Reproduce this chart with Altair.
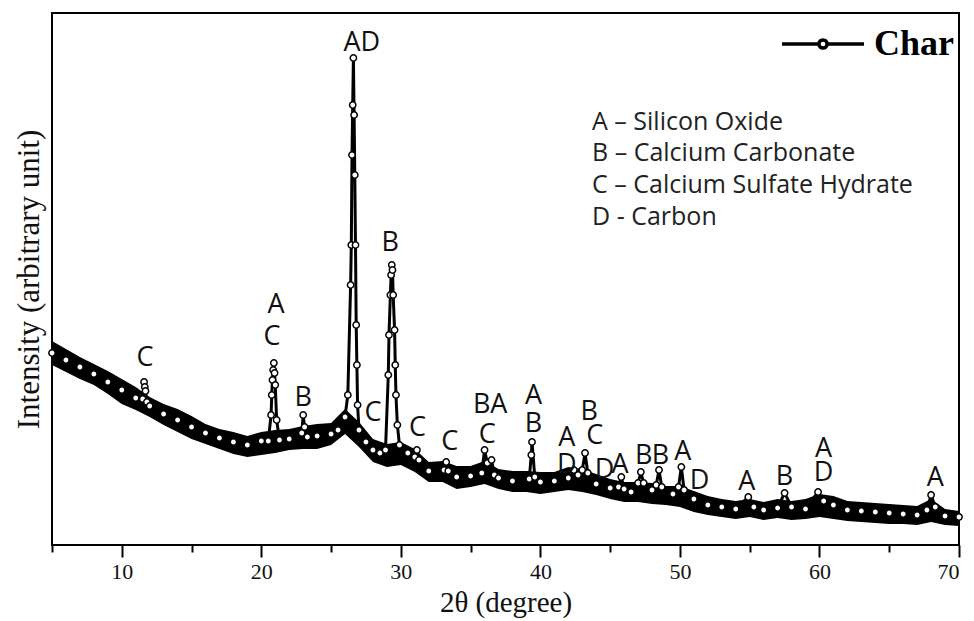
import altair as alt
import pandas as pd

# ---- XRD pattern of the char ----
theta = [5.0, 6, 7, 8, 9, 10, 11, 11.5, 11.6, 11.65, 11.7, 11.8, 12, 13, 14, 15, 16, 17, 18, 19, 20,
         20.5, 20.7, 20.75, 20.8, 20.85, 20.9, 20.95, 21.0, 21.1, 21.3, 22, 22.9, 23.0, 23.1, 23.3,
         24, 25, 25.5, 26.0, 26.2, 26.4, 26.45, 26.5, 26.55, 26.6, 26.65, 26.7, 26.75, 26.8, 26.85,
         26.9, 27.0, 27.5, 28.0, 28.5, 28.9, 29.1, 29.15, 29.25, 29.3, 29.35, 29.4, 29.45, 29.55,
         29.6, 29.65, 29.75, 29.9, 30.5, 31.0, 31.15, 31.3, 32, 33.1, 33.25, 33.4, 34, 35, 35.8,
         36.0, 36.2, 36.5, 36.7, 37, 38, 39.2, 39.35, 39.4, 39.6, 40, 41, 42.0, 42.4, 42.7, 43.0,
         43.2, 43.4, 44, 45, 45.6, 45.8, 46.0, 46.5, 47.0, 47.2, 47.4, 48.0, 48.3, 48.5, 48.7, 49.5,
         49.9, 50.1, 50.3, 51, 52, 53, 54, 54.9, 55.3, 56, 57, 57.5, 58, 59, 59.9, 60.3, 61, 62, 63,
         64, 65, 66, 67, 67.7, 68.0, 68.3, 69, 70]
intensity = [192, 185, 178, 171, 163, 155, 147, 146, 163, 158, 154, 143, 139, 131, 125, 118, 112, 107, 103, 100, 104,
             104, 130, 150, 165, 175, 182, 172, 160, 125, 105, 106, 112, 130, 118, 108,
             109, 111, 115, 128, 150, 260, 300, 390, 440, 487, 430, 370, 300, 220, 180,
             140, 115, 103, 95, 92, 95, 170, 210, 250, 270, 280, 275, 250, 215,
             180, 150, 120, 100, 92, 88, 95, 85, 74, 75, 83, 74, 68, 69, 72,
             95, 82, 85, 70, 67, 64, 66, 90, 103, 68, 63, 64, 67, 75, 70, 75,
             92, 72, 61, 57, 58, 68, 56, 53, 62, 73, 62, 55, 60, 75, 58, 51,
             58, 78, 55, 46, 40, 38, 36, 48, 38, 35, 37, 52, 38, 36, 53, 44, 40, 35, 34,
             33, 32, 31, 30, 35, 50, 38, 29, 28]
series_name = ["Char"]

# noisy band of the measured points (upper / lower edge)
band_theta = [5, 6, 7, 8, 9, 10, 11, 12, 13, 14, 15, 16, 17, 18, 19, 20, 21, 22, 23, 24, 25, 26, 27,
              28, 29, 30, 31, 32, 33, 34, 35, 36, 37, 38, 39, 40, 41, 42, 43, 44, 45, 46, 47, 48,
              49, 50, 51, 52, 53, 54, 55, 56, 57, 58, 59, 60, 61, 62, 63, 64, 65, 66, 67, 68, 69, 70]
band_top = [204, 196, 188, 181, 174, 166, 158, 148, 141, 136, 129, 121, 116, 113, 109, 113, 115, 116,
            119, 121, 122, 136, 123, 106, 101, 103, 96, 83, 84, 79, 79, 84, 76, 74, 74, 73, 73, 78,
            76, 71, 66, 63, 63, 62, 59, 59, 54, 49, 46, 44, 46, 43, 46, 44, 46, 51, 49, 44, 43, 42,
            41, 40, 39, 46, 36, 34]
band_bottom = [180, 173, 166, 160, 151, 141, 135, 128, 120, 113, 106, 101, 96, 91, 88, 90, 92, 95,
               96, 96, 100, 111, 98, 83, 78, 80, 73, 63, 63, 56, 58, 61, 56, 53, 53, 51, 53, 55,
               53, 50, 46, 43, 43, 41, 40, 38, 33, 30, 28, 26, 28, 25, 27, 25, 26, 28, 26, 24, 23,
               22, 21, 21, 20, 23, 20, 19]

# peak annotations (letter, 2theta, intensity)
peak_text = ["C", "A", "C", "B", "AD", "C", "B", "C", "C", "BA", "C", "A", "B", "A", "D", "B", "C",
             "D", "A", "B", "B", "A", "D", "A", "B", "A", "D", "A"]
peak_theta = [11.67, 21.06, 20.77, 23.0, 27.2, 28.0, 29.23, 31.2, 33.5, 36.4, 36.2, 39.5, 39.5,
              41.9, 41.9, 43.5, 43.9, 44.6, 45.7, 47.4, 48.6, 50.2, 51.4, 54.8, 57.5, 60.3, 60.3, 68.3]
peak_y = [187, 240, 208, 147, 502, 132, 302, 117, 103, 140, 110, 149, 121, 107, 80, 133, 109,
          75, 80, 89, 89, 93, 64, 63, 68, 96, 72, 67]

phase_lines = ["A \u2013 Silicon Oxide", "B \u2013 Calcium Carbonate",
               "C \u2013 Calcium Sulfate Hydrate", "D - Carbon"]
phase_theta = [43.7, 43.7, 43.7, 43.7]
phase_y = [423, 392, 360, 328]

major_ticks = [10, 20, 30, 40, 50, 60, 70]
minor_ticks = [5, 15, 25, 35, 45, 55, 65]

df = pd.DataFrame({"theta": theta, "intensity": intensity, "series": series_name * len(theta)})
band = pd.DataFrame({"theta": band_theta, "top": band_top, "bottom": band_bottom})
peaks = pd.DataFrame({"label": peak_text, "theta": peak_theta, "y": peak_y})
phases = pd.DataFrame({"label": phase_lines, "theta": phase_theta, "y": phase_y})

xscale = alt.Scale(domain=[5, 70], nice=False, zero=False)
yscale = alt.Scale(domain=[0, 532], nice=False, zero=False)
yaxis = alt.Axis(title="Intensity (arbitrary unit)", ticks=False, labels=False, domain=False,
                 grid=False, titleFont="Liberation Serif", titleFontSize=31,
                 titleFontWeight="normal", titleColor="#111111", titlePadding=7)

main_axis = alt.Axis(values=major_ticks, tickSize=12, tickWidth=2, tickColor="black",
                     domain=False, grid=False, labelFont="Liberation Serif", labelFontSize=22,
                     labelColor="#111111", labelPadding=4, title="2\u03b8 (degree)",
                     titleFont="Liberation Serif", titleFontSize=29, titleFontWeight="normal",
                     titleColor="#111111", titlePadding=6, orient="bottom")
minor_axis = alt.Axis(values=minor_ticks, tickSize=7, tickWidth=2, tickColor="black",
                      domain=False, grid=False, labels=False, title=None, orient="bottom")

legend_symbol = ("M-1,0L-0.1,0M0.1,0L1,0M-0.1,0A0.1,0.1,0,1,1,0.1,0"
                 "A0.1,0.1,0,1,1,-0.1,0Z")

band_layer = alt.Chart(band).mark_area(color="black", opacity=1).encode(
    x=alt.X("theta:Q", scale=xscale, axis=minor_axis),
    y=alt.Y("bottom:Q", scale=yscale, axis=yaxis),
    y2="top:Q",
)

line_layer = alt.Chart(df).mark_line(strokeWidth=3).encode(
    x=alt.X("theta:Q", scale=xscale, axis=main_axis),
    y=alt.Y("intensity:Q", scale=yscale, axis=yaxis),
    color=alt.Color("series:N", scale=alt.Scale(range=["black"]),
                    legend=alt.Legend(title=None, orient="none", legendX=728, legendY=-12,
                                      symbolType=legend_symbol, symbolSize=6724,
                                      symbolStrokeWidth=3.5, symbolFillColor="white",
                                      symbolStrokeColor="black",
                                      labelFont="Liberation Serif", labelFontSize=36,
                                      labelFontWeight="bold", labelColor="black",
                                      labelOffset=8)),
)

point_layer = alt.Chart(df).mark_point(shape="circle", filled=True, fill="white",
                                       stroke="black", strokeWidth=1.5, size=40,
                                       opacity=1).encode(
    x=alt.X("theta:Q", scale=xscale, axis=None),
    y=alt.Y("intensity:Q", scale=yscale, axis=yaxis),
)

peak_layer = alt.Chart(peaks).mark_text(font="Open Sans", fontSize=27, color="#111111",
                                        align="center", baseline="middle").encode(
    x=alt.X("theta:Q", scale=xscale, axis=None),
    y=alt.Y("y:Q", scale=yscale, axis=yaxis),
    text="label:N",
)

phase_layer = alt.Chart(phases).mark_text(font="Open Sans", fontSize=25, color="#222222",
                                          align="left", baseline="middle").encode(
    x=alt.X("theta:Q", scale=xscale, axis=None),
    y=alt.Y("y:Q", scale=yscale, axis=yaxis),
    text="label:N",
)

chart = alt.layer(band_layer, line_layer, point_layer, peak_layer, phase_layer).resolve_scale(
    x="shared", y="shared"
).resolve_axis(x="independent").properties(
    width=907, height=532,
    autosize=alt.AutoSizeParams(type="none"),
    padding={"left": 52, "top": 13, "right": 15, "bottom": 76},
    background="white",
).configure_view(stroke="black", strokeWidth=2)

chart.save("out.html", embed_options={"renderer": "svg", "actions": False})
